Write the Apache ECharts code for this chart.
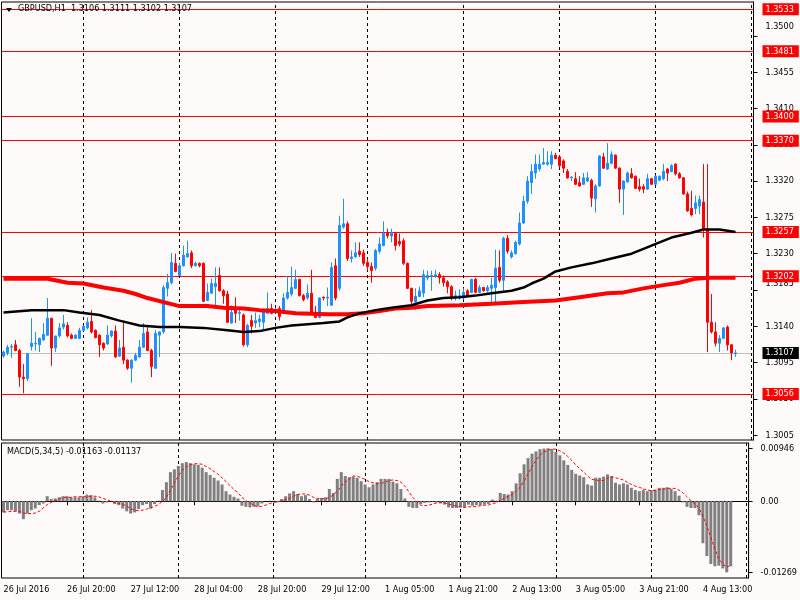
<!DOCTYPE html>
<html><head><meta charset="utf-8">
<script src="https://cdn.jsdelivr.net/npm/echarts@6/dist/echarts.min.js"></script>
<style>html,body{margin:0;padding:0;background:#fffafa}#c{width:800px;height:600px}</style>
</head><body><div id="c"></div>
<script>
const symbolTitle = 'GBPUSD,H1  1.3106 1.3111 1.3102 1.3107';
const macdTitle = 'MACD(5,34,5) -0.01163 -0.01137';

const opens = [
1.3103,1.3107,1.3114,1.3117,1.3110,1.3077,1.3075,1.3115,1.3118,1.3117,
1.3123,1.3129,1.3150,1.3113,1.3128,1.3139,1.3141,1.3129,1.3125,1.3125,
1.3135,1.3138,1.3146,1.3135,1.3129,1.3119,1.3118,1.3128,1.3134,1.3103,
1.3114,1.3098,1.3088,1.3098,1.3102,1.3114,1.3133,1.3110,1.3088,1.3129,
1.3133,1.3187,1.3194,1.3218,1.3203,1.3215,1.3226,1.3231,1.3215,1.3218,
1.3218,1.3172,1.3181,1.3189,1.3203,1.3184,1.3180,1.3144,1.3160,1.3156,
1.3154,1.3117,1.3147,1.3144,1.3146,1.3145,1.3156,1.3162,1.3157,1.3162,
1.3160,1.3175,1.3180,1.3187,1.3198,1.3178,1.3175,1.3181,1.3157,1.3151,
1.3176,1.3175,1.3166,1.3215,1.3187,1.3263,1.3267,1.3224,1.3226,1.3233,
1.3231,1.3219,1.3214,1.3212,1.3233,1.3240,1.3256,1.3252,1.3255,1.3245,
1.3246,1.3218,1.3187,1.3170,1.3177,1.3181,1.3200,1.3202,1.3202,1.3204,
1.3200,1.3195,1.3189,1.3176,1.3176,1.3175,1.3184,1.3182,1.3198,1.3182,
1.3188,1.3184,1.3187,1.3188,1.3213,1.3197,1.3249,1.3226,1.3230,1.3242,
1.3268,1.3295,1.3318,1.3330,1.3335,1.3341,1.3341,1.3341,1.3352,1.3350,
1.3345,1.3332,1.3324,1.3323,1.3318,1.3316,1.3320,1.3321,1.3298,1.3314,
1.3350,1.3335,1.3342,1.3352,1.3336,1.3310,1.3319,1.3329,1.3326,1.3313,
1.3313,1.3310,1.3323,1.3316,1.3321,1.3323,1.3335,1.3332,1.3341,1.3329,
1.3324,1.3304,1.3286,1.3286,1.3289,1.3294,1.3261,1.3145,1.3133,1.3119,
1.3125,1.3139,1.3117,1.3106];
const closes = [
1.3108,1.3114,1.3115,1.3110,1.3077,1.3075,1.3106,1.3119,1.3119,1.3125,
1.3130,1.3150,1.3113,1.3128,1.3138,1.3143,1.3128,1.3125,1.3129,1.3135,
1.3140,1.3145,1.3133,1.3126,1.3117,1.3113,1.3129,1.3134,1.3102,1.3113,
1.3098,1.3088,1.3098,1.3104,1.3114,1.3131,1.3110,1.3090,1.3131,1.3133,
1.3188,1.3194,1.3219,1.3208,1.3215,1.3228,1.3230,1.3215,1.3218,1.3215,
1.3171,1.3182,1.3193,1.3193,1.3184,1.3178,1.3145,1.3157,1.3156,1.3157,
1.3117,1.3141,1.3140,1.3147,1.3149,1.3160,1.3162,1.3156,1.3161,1.3152,
1.3175,1.3182,1.3188,1.3198,1.3178,1.3173,1.3181,1.3157,1.3151,1.3175,
1.3175,1.3176,1.3213,1.3175,1.3265,1.3267,1.3224,1.3226,1.3231,1.3229,
1.3218,1.3214,1.3209,1.3234,1.3242,1.3255,1.3252,1.3256,1.3240,1.3242,
1.3218,1.3187,1.3171,1.3177,1.3184,1.3204,1.3203,1.3203,1.3204,1.3200,
1.3194,1.3189,1.3175,1.3178,1.3178,1.3182,1.3178,1.3198,1.3182,1.3188,
1.3184,1.3188,1.3191,1.3212,1.3197,1.3249,1.3233,1.3231,1.3244,1.3268,
1.3295,1.3320,1.3332,1.3341,1.3341,1.3343,1.3343,1.3352,1.3348,1.3339,
1.3336,1.3324,1.3325,1.3316,1.3314,1.3324,1.3324,1.3299,1.3314,1.3351,
1.3336,1.3342,1.3353,1.3336,1.3310,1.3320,1.3330,1.3324,1.3311,1.3310,
1.3310,1.3323,1.3316,1.3326,1.3326,1.3332,1.3330,1.3339,1.3329,1.3324,
1.3304,1.3283,1.3278,1.3293,1.3297,1.3261,1.3145,1.3133,1.3119,1.3125,
1.3138,1.3117,1.3107,1.3107];
const lows = [
1.3101,1.3104,1.3101,1.3109,1.3065,1.3057,1.3072,1.3110,1.3110,1.3108,
1.3122,1.3128,1.3091,1.3108,1.3126,1.3136,1.3126,1.3124,1.3124,1.3124,
1.3134,1.3136,1.3131,1.3125,1.3102,1.3110,1.3117,1.3126,1.3101,1.3102,
1.3093,1.3086,1.3070,1.3097,1.3101,1.3113,1.3109,1.3077,1.3087,1.3102,
1.3131,1.3177,1.3192,1.3207,1.3202,1.3214,1.3225,1.3212,1.3214,1.3213,
1.3170,1.3171,1.3180,1.3166,1.3183,1.3168,1.3144,1.3143,1.3144,1.3147,
1.3115,1.3114,1.3131,1.3138,1.3139,1.3135,1.3155,1.3155,1.3156,1.3147,
1.3157,1.3173,1.3177,1.3186,1.3177,1.3171,1.3173,1.3156,1.3150,1.3150,
1.3172,1.3165,1.3165,1.3172,1.3184,1.3261,1.3221,1.3219,1.3225,1.3226,
1.3215,1.3209,1.3194,1.3209,1.3230,1.3239,1.3249,1.3244,1.3234,1.3239,
1.3216,1.3186,1.3166,1.3160,1.3176,1.3176,1.3197,1.3184,1.3200,1.3193,
1.3189,1.3181,1.3172,1.3172,1.3173,1.3173,1.3177,1.3181,1.3181,1.3181,
1.3183,1.3182,1.3168,1.3168,1.3194,1.3184,1.3230,1.3224,1.3229,1.3240,
1.3267,1.3292,1.3304,1.3323,1.3332,1.3340,1.3339,1.3335,1.3347,1.3337,
1.3330,1.3323,1.3320,1.3315,1.3313,1.3315,1.3319,1.3288,1.3281,1.3313,
1.3335,1.3334,1.3341,1.3335,1.3293,1.3278,1.3318,1.3323,1.3310,1.3307,
1.3305,1.3309,1.3315,1.3315,1.3320,1.3321,1.3320,1.3331,1.3327,1.3323,
1.3303,1.3282,1.3276,1.3279,1.3279,1.3250,1.3108,1.3131,1.3115,1.3108,
1.3124,1.3110,1.3098,1.3102];
const highs = [
1.3110,1.3117,1.3118,1.3123,1.3112,1.3093,1.3106,1.3150,1.3133,1.3126,
1.3144,1.3175,1.3150,1.3128,1.3144,1.3154,1.3145,1.3131,1.3130,1.3138,
1.3141,1.3151,1.3160,1.3136,1.3130,1.3120,1.3141,1.3135,1.3141,1.3123,
1.3145,1.3099,1.3099,1.3107,1.3123,1.3144,1.3139,1.3112,1.3135,1.3134,
1.3191,1.3205,1.3231,1.3230,1.3219,1.3240,1.3246,1.3234,1.3220,1.3219,
1.3219,1.3193,1.3199,1.3213,1.3213,1.3186,1.3184,1.3166,1.3176,1.3160,
1.3156,1.3143,1.3154,1.3157,1.3154,1.3162,1.3182,1.3168,1.3163,1.3165,
1.3181,1.3202,1.3214,1.3210,1.3199,1.3180,1.3192,1.3210,1.3165,1.3176,
1.3177,1.3188,1.3219,1.3224,1.3277,1.3298,1.3270,1.3234,1.3244,1.3244,
1.3235,1.3224,1.3219,1.3236,1.3250,1.3270,1.3261,1.3261,1.3257,1.3255,
1.3249,1.3219,1.3188,1.3187,1.3189,1.3210,1.3209,1.3209,1.3210,1.3207,
1.3203,1.3197,1.3191,1.3184,1.3186,1.3187,1.3186,1.3199,1.3200,1.3191,
1.3189,1.3191,1.3200,1.3235,1.3234,1.3251,1.3253,1.3234,1.3246,1.3281,
1.3302,1.3326,1.3341,1.3353,1.3353,1.3361,1.3357,1.3357,1.3355,1.3352,
1.3347,1.3335,1.3326,1.3331,1.3326,1.3330,1.3331,1.3323,1.3316,1.3352,
1.3355,1.3367,1.3357,1.3353,1.3337,1.3321,1.3332,1.3336,1.3327,1.3323,
1.3316,1.3329,1.3324,1.3327,1.3327,1.3341,1.3336,1.3341,1.3342,1.3331,
1.3325,1.3307,1.3308,1.3302,1.3302,1.3341,1.3341,1.3180,1.3145,1.3129,
1.3139,1.3141,1.3118,1.3111];

// moving averages read at sample bars: [barIndex, value]
const maBlack = [[0,1.3157],[7,1.3160],[15,1.3160],[19,1.3157],[24,1.3154],[29,1.3147],[34,1.3141],[39,1.3139],[44,1.3139],[50,1.3138],[56,1.3135],[60,1.3133],[64,1.3134],[68,1.3138],[72,1.3141],[80,1.3144],[84,1.3146],[86,1.3151],[89,1.3156],[93,1.3160],[97,1.3163],[102,1.3166],[106,1.3172],[110,1.3175],[114,1.3176],[118,1.3178],[122,1.3181],[127,1.3184],[130,1.3188],[132,1.3193],[135,1.3199],[138,1.3208],[142,1.3213],[147,1.3218],[152,1.3224],[157,1.3230],[160,1.3236],[164,1.3244],[167,1.3250],[172,1.3256],[175,1.3260],[179,1.3260],[183,1.3257]];
const maRed = [[0,1.3199],[11,1.3199],[16,1.3194],[20,1.3193],[25,1.3188],[30,1.3184],[33,1.3180],[36,1.3175],[40,1.3170],[44,1.3165],[51,1.3165],[55,1.3163],[60,1.3162],[64,1.3160],[68,1.3159],[73,1.3156],[81,1.3155],[86,1.3155],[90,1.3156],[94,1.3159],[98,1.3162],[102,1.3163],[106,1.3165],[114,1.3166],[122,1.3168],[130,1.3170],[138,1.3172],[144,1.3176],[151,1.3181],[155,1.3182],[160,1.3187],[165,1.3191],[169,1.3194],[173,1.3199],[176,1.3200],[183,1.3200]];

const macdHist = [
-0.0020,-0.0016,-0.0016,-0.0018,-0.0022,-0.0032,-0.0022,-0.0016,-0.0013,-0.0007,
-0.0004,0.0009,0.0004,0.0005,0.0007,0.0009,0.0009,0.0007,0.0007,0.0007,
0.0009,0.0012,0.0011,0.0007,0.0001,-0.0004,-0.0002,0.0000,-0.0005,-0.0007,
-0.0013,-0.0018,-0.0022,-0.0020,-0.0014,-0.0007,-0.0005,-0.0013,-0.0005,0.0001,
0.0020,0.0034,0.0052,0.0057,0.0063,0.0068,0.0070,0.0068,0.0066,0.0065,
0.0060,0.0052,0.0047,0.0042,0.0037,0.0030,0.0018,0.0012,0.0008,0.0005,
-0.0008,-0.0010,-0.0011,-0.0010,-0.0009,-0.0004,0.0000,0.0001,0.0001,-0.0002,
0.0004,0.0009,0.0014,0.0018,0.0013,0.0009,0.0011,0.0004,-0.0002,0.0004,
0.0006,0.0007,0.0022,0.0015,0.0040,0.0052,0.0045,0.0043,0.0044,0.0042,
0.0036,0.0030,0.0025,0.0030,0.0034,0.0040,0.0040,0.0040,0.0035,0.0032,
0.0022,0.0005,-0.0010,-0.0012,-0.0012,-0.0005,-0.0003,-0.0002,-0.0001,-0.0002,
-0.0004,-0.0006,-0.0011,-0.0012,-0.0012,-0.0011,-0.0011,-0.0006,-0.0008,-0.0007,
-0.0007,-0.0006,-0.0005,0.0003,0.0001,0.0015,0.0013,0.0012,0.0018,0.0032,
0.0050,0.0066,0.0077,0.0085,0.0089,0.0093,0.0094,0.00946,0.0093,0.0088,
0.0082,0.0073,0.0065,0.0056,0.0049,0.0046,0.0043,0.0030,0.0028,0.0042,
0.0042,0.0044,0.0048,0.0045,0.0033,0.0030,0.0032,0.0030,0.0024,0.0020,
0.0018,0.0020,0.0018,0.0020,0.0021,0.0024,0.0024,0.0025,0.0022,0.0018,
0.0010,-0.0002,-0.0010,-0.0012,-0.0012,-0.0025,-0.0075,-0.0098,-0.0112,-0.0116,
-0.0115,-0.0120,-0.01269,-0.01163];
const macdSignal = [
-0.0019,-0.0019,-0.0018,-0.0018,-0.0018,-0.0021,-0.0022,-0.0022,-0.0021,-0.0018,
-0.0012,-0.0006,-0.0002,0.0001,0.0004,0.0007,0.0007,0.0007,0.0008,0.0008,
0.0008,0.0008,0.0009,0.0009,0.0008,0.0005,0.0003,0.0000,-0.0002,-0.0004,
-0.0005,-0.0009,-0.0013,-0.0016,-0.0017,-0.0016,-0.0014,-0.0012,-0.0009,-0.0006,
0.0000,0.0007,0.0020,0.0033,0.0045,0.0055,0.0062,0.0065,0.0067,0.0067,
0.0066,0.0062,0.0058,0.0053,0.0048,0.0042,0.0035,0.0028,0.0021,0.0015,
0.0007,0.0001,-0.0003,-0.0007,-0.0010,-0.0009,-0.0007,-0.0004,-0.0002,-0.0001,
0.0001,0.0003,0.0005,0.0009,0.0012,0.0013,0.0013,0.0011,0.0007,0.0005,
0.0005,0.0004,0.0007,0.0011,0.0018,0.0027,0.0035,0.0039,0.0045,0.0045,
0.0042,0.0039,0.0035,0.0033,0.0031,0.0032,0.0034,0.0037,0.0038,0.0037,
0.0034,0.0027,0.0017,0.0007,-0.0001,-0.0007,-0.0008,-0.0007,-0.0005,-0.0003,
-0.0002,-0.0003,-0.0005,-0.0007,-0.0009,-0.0010,-0.0011,-0.0010,-0.0010,-0.0009,
-0.0008,-0.0007,-0.0007,-0.0004,-0.0003,0.0002,0.0005,0.0009,0.0012,0.0018,
0.0025,0.0036,0.0049,0.0062,0.0073,0.0082,0.0088,0.0091,0.0093,0.0093,
0.0090,0.0086,0.0080,0.0073,0.0065,0.0058,0.0052,0.0045,0.0039,0.0038,
0.0037,0.0037,0.0041,0.0044,0.0042,0.0040,0.0038,0.0034,0.0030,0.0027,
0.0025,0.0022,0.0020,0.0019,0.0019,0.0021,0.0021,0.0023,0.0023,0.0023,
0.0020,0.0015,0.0008,0.0001,-0.0005,-0.0012,-0.0027,-0.0044,-0.0064,-0.0085,
-0.0103,-0.0112,-0.0118,-0.01137];

const levelLines = [1.3533, 1.3481, 1.3400, 1.3370, 1.3257, 1.3202, 1.3056];
const bidPrice = 1.3107;
const priceTicks = [1.3005,1.3050,1.3095,1.3140,1.3185,1.3230,1.3275,1.3320,1.3365,1.3410,1.3455,1.3500];
const macdTicks = [0.00946, 0, -0.01269];
const macdTickText = ['0.00946', '0.00', '-0.01269'];
const timeLabels = ['26 Jul 2016','26 Jul 20:00','27 Jul 12:00','28 Jul 04:00','28 Jul 20:00','29 Jul 12:00','1 Aug 05:00','1 Aug 21:00','2 Aug 13:00','3 Aug 05:00','3 Aug 21:00','4 Aug 13:00'];
const labelStep = 16;
const daySeparators = [20, 44, 68, 91, 115, 139, 163, 187];
const slotCount = 188;

const FONT = '"DejaVu Sans Condensed", "DejaVu Sans", sans-serif';
const FS = 9;
// label text nudged upward (px) where the terminal moved it
const nudgeUp = {'1.3500': 9, '1.3185': 6};

const cats = Array.from({length: slotCount}, (_, i) => String(i));
const candleData = opens.map((o, i) => [o, closes[i], lows[i], highs[i]]);
const showTime = (i) => i % labelStep === 0 && (i / labelStep) < timeLabels.length;

const sepLines = daySeparators.map(i => ({xAxis: String(i), lineStyle: {color: '#000', width: 1, type: [3, 3]}, label: {show: false}}));
const levelMarks = levelLines.map(v => ({yAxis: v, lineStyle: {color: '#ff0000', width: 1, type: 'solid'},
  label: {formatter: v.toFixed(4), backgroundColor: '#ff0000', color: '#ffffff'}}));
levelMarks.push({yAxis: bidPrice, lineStyle: {color: '#c0c0c0', width: 1, type: 'solid'},
  label: {formatter: bidPrice.toFixed(4), backgroundColor: '#000000', color: '#ffffff'}});

const richNudge = {};
Object.keys(nudgeUp).forEach((k, j) => {
  richNudge['n' + j] = {padding: [0, 0, nudgeUp[k] * 2, 0], fontSize: FS, fontFamily: FONT, color: '#000'};
});

const chart = echarts.init(document.getElementById('c'), null, {renderer: 'canvas'});
chart.setOption({
  animation: false,
  backgroundColor: '#fffafa',
  textStyle: {fontFamily: FONT},
  grid: [
    {left: 1.5, top: 2, width: 752, height: 438, show: true, borderColor: '#000', borderWidth: 1},
    {left: 1.5, top: 443, width: 752, height: 135, show: true, borderColor: '#000', borderWidth: 1}
  ],
  xAxis: [
    {type: 'category', gridIndex: 0, data: cats, boundaryGap: true,
     axisLine: {show: false}, axisTick: {show: false}, axisLabel: {show: false}, splitLine: {show: false}},
    {type: 'category', gridIndex: 1, data: cats, boundaryGap: true,
     axisLine: {show: true, lineStyle: {color: '#000'}},
     axisTick: {show: true, alignWithLabel: true, interval: (i) => showTime(i), length: 4, lineStyle: {color: '#000'}},
     axisLabel: {interval: (i) => showTime(i), formatter: (v, i) => timeLabels[Math.round(i / labelStep)],
       align: 'left', margin: 7, color: '#000', fontSize: FS, fontFamily: FONT},
     splitLine: {show: false}}
  ],
  yAxis: [
    {type: 'value', gridIndex: 0, position: 'right', min: 1.2999, max: 1.3542, scale: true,
     axisLine: {show: true, lineStyle: {color: '#000'}},
     axisTick: {show: true, customValues: priceTicks, length: 4, lineStyle: {color: '#000'}},
     axisLabel: {customValues: priceTicks, margin: 12, color: '#000', fontSize: FS, fontFamily: FONT, rich: richNudge,
       formatter: v => { const s = v.toFixed(4); const j = Object.keys(nudgeUp).indexOf(s); return j >= 0 ? '{n' + j + '|' + s + '}' : s; }},
     splitLine: {show: false}},
    {type: 'value', gridIndex: 1, position: 'right', min: -0.0137, max: 0.0104,
     axisLine: {show: true, lineStyle: {color: '#000'}},
     axisTick: {show: true, customValues: macdTicks, length: 4, lineStyle: {color: '#000'}},
     axisLabel: {customValues: macdTicks, margin: 12, color: '#000', fontSize: FS, fontFamily: FONT,
       formatter: v => { let k = 0, d = 1; macdTicks.forEach((t, j) => { if (Math.abs(t - v) < d) { d = Math.abs(t - v); k = j; } }); return macdTickText[k]; }},
     splitLine: {show: false}}
  ],
  series: [
    {name: 'GBPUSD', type: 'candlestick', xAxisIndex: 0, yAxisIndex: 0, data: candleData, barWidth: 2.5, z: 3,
     itemStyle: {color: '#1e90ff', color0: '#ff0000', borderColor: '#1e90ff', borderColor0: '#ff0000', borderWidth: 1},
     markLine: {silent: true, symbol: ['none', 'none'], z: 1, animation: false, precision: 5,
       label: {show: true, position: 'end', distance: 9, padding: [2, 5, 1, 3], fontSize: FS, fontFamily: FONT},
       data: levelMarks.concat(sepLines)}},
    {name: 'MA slow', type: 'line', xAxisIndex: 0, yAxisIndex: 0, data: maRed, showSymbol: false, z: 4,
     lineStyle: {color: '#ff0000', width: 4}},
    {name: 'MA fast', type: 'line', xAxisIndex: 0, yAxisIndex: 0, data: maBlack, showSymbol: false, z: 5,
     lineStyle: {color: '#000000', width: 2.5}},
    {name: 'MACD', type: 'bar', xAxisIndex: 1, yAxisIndex: 1, data: macdHist, barWidth: 3, z: 3,
     itemStyle: {color: '#808080'},
     markLine: {silent: true, symbol: ['none', 'none'], z: 1, animation: false, precision: 5, data: sepLines}},
    {name: 'Signal', type: 'line', xAxisIndex: 1, yAxisIndex: 1, data: macdSignal, showSymbol: false, z: 4,
     lineStyle: {color: '#ff0000', width: 1, type: [3, 2]}}
  ],
  graphic: [
    {type: 'polygon', shape: {points: [[6, 8], [12, 8], [9, 12]]}, style: {fill: '#000'}, z: 100},
    {type: 'text', left: 18, top: 4, z: 100, style: {text: symbolTitle, fill: '#000', font: FS + 'px ' + FONT}},
    {type: 'text', left: 7, top: 447, z: 100, style: {text: macdTitle, fill: '#000', font: FS + 'px ' + FONT}}
  ]
});
</script></body></html>
